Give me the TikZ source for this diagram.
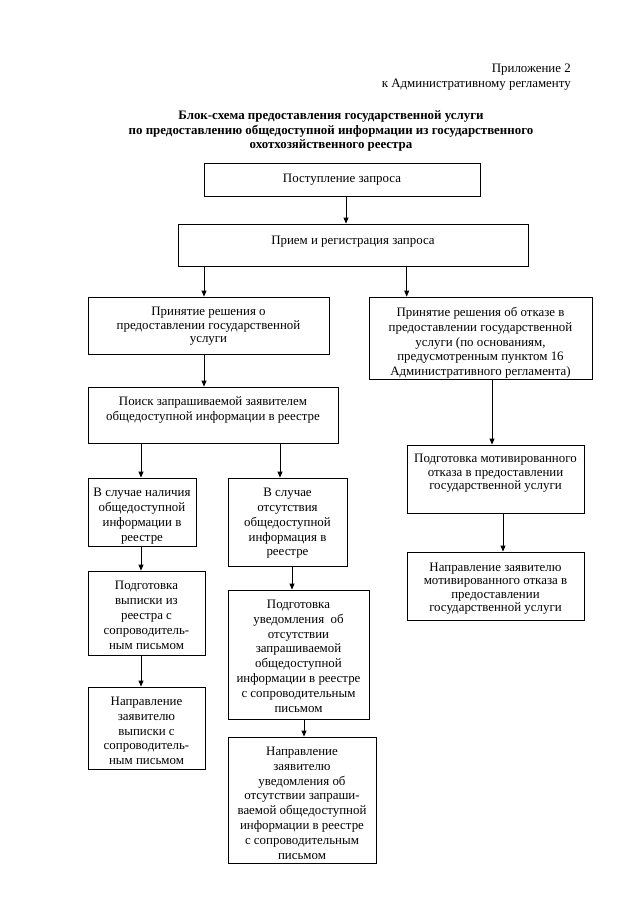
\documentclass[tikz,border=0pt]{standalone}
\usepackage{fontspec}
\setmainfont{Liberation Serif}
\usetikzlibrary{arrows.meta}
\begin{document}
\begin{tikzpicture}[x=0.9297pt,y=-0.9297pt,
  box/.style={draw=black, line width=0.75pt, inner sep=0pt},
  lbl/.style={anchor=north, inner sep=0pt, align=center,
    font=\fontsize{12}{13.8}\selectfont, execute at begin node={\rule{0pt}{9.7pt}}},
  tight/.style={font=\fontsize{12}{12.6}\selectfont},
  arr/.style={line width=0.75pt, -{Triangle[length=5.5pt,width=4.5pt]}}]
\useasboundingbox[fill=white] (0,0) rectangle (640,905);

% header
\node[anchor=north east, inner sep=0pt, align=right, font=\fontsize{12}{13.8}\selectfont,
  execute at begin node={\rule{0pt}{9.7pt}}] (hdr) at (571,63.5)
  {Приложение 2\\к Административному регламенту};
\node[lbl, font=\bfseries\fontsize{12}{13.6}\selectfont] (title) at (331,110.5)
  {Блок-схема предоставления государственной услуги\\
   по предоставлению общедоступной информации из государственного\\
   охотхозяйственного реестра};

% boxes (pixel rectangles)
\newcommand{\mkbox}[5]{%
  \node[box, minimum width={(#4-#2)*0.9297pt}, minimum height={(#5-#3)*0.9297pt}]
    (#1) at ({(#2+#4)/2},{(#3+#5)/2}) {};}
\mkbox{b1}{204}{163}{480}{196}
\mkbox{b2}{178}{224}{528}{266}
\mkbox{b3}{88}{297}{329}{354}
\mkbox{b4}{369}{297}{592}{379}
\mkbox{b5}{88}{387}{338}{443}
\mkbox{b6}{407}{445}{584}{513}
\mkbox{b7}{407}{552}{584}{620}
\mkbox{b8}{88}{478}{196}{546}
\mkbox{b9}{228}{478}{347}{566}
\mkbox{b10}{88}{571}{205}{655}
\mkbox{b11}{228}{590}{369}{719}
\mkbox{b12}{88}{687}{205}{769}
\mkbox{b13}{228}{737}{376}{863}

\node[lbl] (t1) at ([yshift=-8.3pt]b1.north) {Поступление запроса};
\node[lbl] (t2) at ([yshift=-9.2pt]b2.north) {Прием и регистрация запроса};
\node[lbl, tight] (t3) at ([yshift=-9.6pt]b3.north) {Принятие решения о\\предоставлении государственной\\услуги};
\node[lbl] (t4) at ([yshift=-9.6pt]b4.north) {Принятие решения об отказе в\\предоставлении государственной\\услуги (по основаниям,\\предусмотренным пунктом 16\\Административного регламента)};
\node[lbl] (t5) at ([yshift=-9.6pt]b5.north) {Поиск запрашиваемой заявителем\\общедоступной информации в реестре};
\node[lbl, tight] (t6) at ([yshift=-8.6pt]b6.north) {Подготовка мотивированного\\отказа в предоставлении\\государственной услуги};
\node[lbl, tight] (t7) at ([yshift=-10pt]b7.north) {Направление заявителю\\мотивированного отказа в\\предоставлении\\государственной услуги};
\node[lbl] (t8) at ([yshift=-9.6pt]b8.north) {В случае наличия\\общедоступной\\информации в\\реестре};
\node[lbl] (t9) at ([yshift=-9.6pt]b9.north) {В случае\\отсутствия\\общедоступной\\информация в\\реестре};
\node[lbl] (t10) at ([yshift=-9.8pt]b10.north) {Подготовка\\выписки из\\реестра с\\сопроводитель-\\ным письмом};
\node[lbl] (t11) at ([yshift=-9.4pt]b11.north) {Подготовка\\уведомления \ об\\отсутствии\\запрашиваемой\\общедоступной\\информации в реестре\\с сопроводительным\\письмом};
\node[lbl] (t12) at ([yshift=-9.4pt]b12.north) {Направление\\заявителю\\выписки с\\сопроводитель-\\ным письмом};
\node[lbl] (t13) at ([yshift=-9.4pt]b13.north) {Направление\\заявителю\\уведомления об\\отсутствии запраши-\\ваемой общедоступной\\информации в реестре\\с сопроводительным\\письмом};

% connectors
\draw[arr] (b1.south -| 346,0) -- (b2.north -| 346,0);
\draw[arr] (b2.south -| 204,0) -- (b3.north -| 204,0);
\draw[arr] (b2.south -| 406.7,0) -- (b4.north -| 406.7,0);
\draw[arr] (b3.south -| 204,0) -- (b5.north -| 204,0);
\draw[arr] (b4.south -| 492,0) -- (b6.north -| 492,0);
\draw[arr] (b6.south -| 503,0) -- (b7.north -| 503,0);
\draw[arr] (b5.south -| 141,0) -- (b8.north -| 141,0);
\draw[arr] (b5.south -| 280,0) -- (b9.north -| 280,0);
\draw[arr] (b8.south -| 141,0) -- (b10.north -| 141,0);
\draw[arr] (b9.south -| 292,0) -- (b11.north -| 292,0);
\draw[arr] (b10.south -| 141,0) -- (b12.north -| 141,0);
\draw[arr] (b11.south -| 304,0) -- (b13.north -| 304,0);
\end{tikzpicture}
\end{document}
